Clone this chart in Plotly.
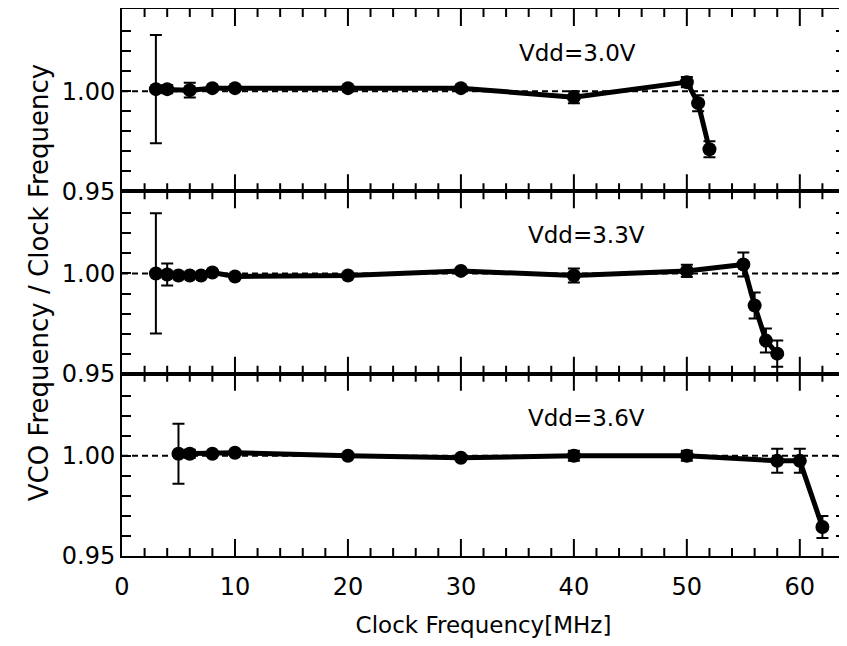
import plotly.graph_objects as go
from plotly.subplots import make_subplots

# ---- data ----
x_30 = [3, 4, 6, 8, 10, 20, 30, 40, 50, 51, 52]
y_30 = [1.001, 1.001, 1.0005, 1.0015, 1.0015, 1.0015, 1.0015, 0.997, 1.0045, 0.994, 0.971]
e_30 = [0.027, 0.002, 0.0037, 0.001, 0.001, 0.001, 0.001, 0.003, 0.0025, 0.004, 0.004]

x_33 = [3, 4, 5, 6, 7, 8, 10, 20, 30, 40, 50, 55, 56, 57, 58]
y_33 = [1.000, 0.9995, 0.999, 0.999, 0.999, 1.0005, 0.9985, 0.999, 1.0013, 0.999, 1.0013, 1.0045, 0.984, 0.9665, 0.960]
e_33 = [0.030, 0.0055, 0.001, 0.001, 0.001, 0.001, 0.001, 0.001, 0.001, 0.0035, 0.003, 0.006, 0.0065, 0.006, 0.0065]

x_36 = [5, 6, 8, 10, 20, 30, 40, 50, 58, 60, 62]
y_36 = [1.001, 1.001, 1.001, 1.0015, 1.000, 0.999, 1.000, 1.000, 0.9975, 0.9975, 0.9645]
e_36 = [0.015, 0.002, 0.001, 0.001, 0.001, 0.001, 0.0025, 0.0025, 0.006, 0.006, 0.0055]

labels = ["Vdd=3.0V", "Vdd=3.3V", "Vdd=3.6V"]
label_x = [40.3, 41.1, 41.1]
label_y = [1.019, 1.019, 1.019]
ref_value = 1.0

# axis ranges and tick positions / labels
X_RANGE = [0, 64]
Y_RANGE = [0.95, 1.041]
x_tick_major = [10, 20, 30, 40, 50, 60]
x_tick_labels = ["0", "10", "20", "30", "40", "50", "60"]
x_label_vals = [0, 10, 20, 30, 40, 50, 60]
x_tick_minor = [2, 4, 6, 8, 12, 14, 16, 18, 22, 24, 26, 28, 32, 34, 36, 38,
                42, 44, 46, 48, 52, 54, 56, 58, 62]
y_tickvals = [0.95, 0.96, 0.97, 0.98, 0.99, 1.00, 1.01, 1.02, 1.03]
y_ticktext = ["0.95", "", "", "", "", "1.00", "", "", ""]

# tick lengths expressed in y data units (panel ~182 px tall for 0.091)
MAJOR_LEN = 0.0085
MINOR_LEN = 0.004

FONT = "DejaVu Sans, Liberation Sans, Arial, sans-serif"

fig = make_subplots(rows=3, cols=1, shared_xaxes=False, vertical_spacing=0)

series = [(x_30, y_30, e_30), (x_33, y_33, e_33), (x_36, y_36, e_36)]
for i, (xs, ys, es) in enumerate(series, start=1):
    sfx = "" if i == 1 else str(i)
    fig.add_shape(type="line", xref=f"x{sfx} domain", yref=f"y{sfx}",
                  x0=0, x1=1, y0=ref_value, y1=ref_value,
                  line=dict(color="black", width=2, dash="6px,4px"), layer="below")
    # inside x-axis tick marks on bottom and top edge of each panel
    for vals, L in ((x_tick_major, MAJOR_LEN), (x_tick_minor, MINOR_LEN)):
        n = len(vals)
        fig.add_trace(go.Scatter(
            x=vals, y=[Y_RANGE[0]] * n, mode="markers",
            marker=dict(size=1, color="rgba(0,0,0,0)"),
            error_y=dict(type="data", symmetric=False, array=[L] * n,
                         arrayminus=[0] * n, color="black", thickness=2, width=0),
            hoverinfo="skip", showlegend=False), row=i, col=1)
        fig.add_trace(go.Scatter(
            x=vals, y=[Y_RANGE[1]] * n, mode="markers",
            marker=dict(size=1, color="rgba(0,0,0,0)"),
            error_y=dict(type="data", symmetric=False, array=[0] * n,
                         arrayminus=[L] * n, color="black", thickness=2, width=0),
            hoverinfo="skip", showlegend=False), row=i, col=1)
    fig.add_trace(go.Scatter(
        x=xs, y=ys, mode="lines+markers",
        line=dict(color="black", width=5),
        marker=dict(color="black", size=14),
        error_y=dict(type="data", array=es, visible=True, color="black",
                     thickness=2, width=6),
        showlegend=False), row=i, col=1)
    fig.add_annotation(x=label_x[i-1], y=label_y[i-1], text=labels[i-1],
                       showarrow=False, font=dict(size=23, color="black", family=FONT),
                       xref=f"x{sfx}", yref=f"y{sfx}")

for i in range(1, 4):
    fig.update_xaxes(range=X_RANGE, tickmode="array", tickvals=x_label_vals,
                     ticktext=x_tick_labels, ticks="outside", ticklen=8,
                     tickcolor="rgba(0,0,0,0)",
                     showline=True, linewidth=2, linecolor="black", mirror=True,
                     showgrid=False, zeroline=False,
                     showticklabels=(i == 3),
                     tickfont=dict(size=24, color="black", family=FONT),
                     automargin=False, row=i, col=1)
    fig.update_yaxes(range=Y_RANGE, tickvals=y_tickvals, ticktext=y_ticktext,
                     ticks="inside", ticklen=9, tickwidth=2, tickcolor="black",
                     showline=True, linewidth=2, linecolor="black", mirror="ticks",
                     showgrid=False, zeroline=False,
                     tickfont=dict(size=24, color="black", family=FONT),
                     automargin=False,
                     row=i, col=1)

fig.update_xaxes(title=dict(text="Clock Frequency[MHz]",
                            font=dict(size=23, color="black", family=FONT), standoff=20),
                 row=3, col=1)
fig.update_yaxes(title=dict(text="VCO Frequency / Clock Frequency",
                            font=dict(size=26, color="black", family=FONT), standoff=6),
                 row=2, col=1)

fig.update_layout(width=839, height=630, margin=dict(l=114, r=2, t=1, b=82),
                  template="none",
                  plot_bgcolor="white", paper_bgcolor="white",
                  font=dict(family=FONT, color="black"))

fig.write_html("out.html")
